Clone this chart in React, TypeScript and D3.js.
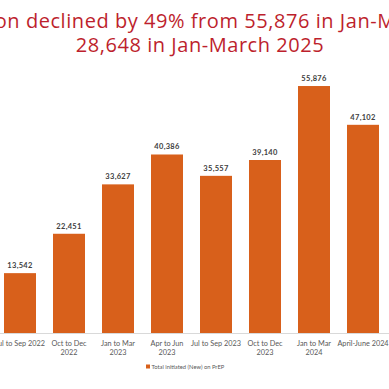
import React, { useEffect, useRef } from 'react';
import * as d3 from 'd3';

// quarters shown in the crop
const categories = [
  'Jul to Sep 2022',
  'Oct to Dec 2022',
  'Jan to Mar 2023',
  'Apr to Jun 2023',
  'Jul to Sep 2023',
  'Oct to Dec 2023',
  'Jan to Mar 2024',
  'April-June 2024',
];
const labelLines = [
  ['Jul to Sep 2022'],
  ['Oct to Dec', '2022'],
  ['Jan to Mar', '2023'],
  ['Apr to Jun', '2023'],
  ['Jul to Sep 2023'],
  ['Oct to Dec', '2023'],
  ['Jan to Mar', '2024'],
  ['April-June 2024'],
];
const initiated = [13542, 22451, 33627, 40386, 35557, 39140, 55876, 47102];
const titleLines = [
  'PrEP initiation declined by 49% from 55,876 in Jan-March 2024 to',
  '28,648 in Jan-March 2025',
];
const seriesName = 'Total initiated (New) on PrEP';

const W = 389;
const H = 389;
const BAR = '#d8601b';

function App() {
  const ref = useRef<SVGSVGElement | null>(null);

  useEffect(() => {
    const svg = d3.select(ref.current);
    svg.selectAll('*').remove();

    svg.append('rect').attr('width', W).attr('height', H).attr('fill', '#ffffff');

    // title
    svg.append('g')
      .selectAll('text')
      .data(titleLines)
      .enter()
      .append('text')
      .attr('x', 200)
      .attr('y', (_, i) => 28 + i * 24)
      .attr('text-anchor', 'middle')
      .style('font-family', '"Open Sans", sans-serif')
      .style('font-size', '20px')
      .style('font-weight', 500)
      .style('letter-spacing', '0.55px')
      .style('fill', '#bd1f2d')
      .text(d => d);

    const x = d3.scaleBand<string>()
      .domain(categories)
      .range([-4.5, 387.5])
      .paddingInner(0.347)
      .paddingOuter(0.1735);

    const y = d3.scaleLinear().domain([0, 60000]).range([333, 67.8]);

    // baseline
    svg.append('line')
      .attr('x1', 0).attr('x2', W)
      .attr('y1', y(0) + 0.5).attr('y2', y(0) + 0.5)
      .style('stroke', '#d9d9d9')
      .style('stroke-width', 1);

    const bars = svg.append('g')
      .selectAll('g')
      .data(categories)
      .enter()
      .append('g');

    bars.append('rect')
      .attr('x', d => x(d)!)
      .attr('width', x.bandwidth())
      .attr('y', (_, i) => y(initiated[i]))
      .attr('height', (_, i) => y(0) - y(initiated[i]))
      .style('fill', BAR);

    bars.append('text')
      .attr('x', d => x(d)! + x.bandwidth() / 2)
      .attr('y', (_, i) => y(initiated[i]) - 5)
      .attr('text-anchor', 'middle')
      .style('font-family', 'Lato, sans-serif')
      .style('font-size', '7.5px')
      .style('font-weight', 'bold')
      .style('letter-spacing', '0.3px')
      .style('fill', '#404040')
      .text((_, i) => d3.format(',')(initiated[i]));

    // category labels
    bars.append('text')
      .attr('text-anchor', 'middle')
      .style('font-family', 'Lato, sans-serif')
      .style('font-size', '7.3px')
      .style('fill', '#595959')
      .each(function (d, i) {
        d3.select(this)
          .selectAll('tspan')
          .data(labelLines[i])
          .enter()
          .append('tspan')
          .attr('x', x(d)! + x.bandwidth() / 2)
          .attr('y', (_, j) => 346 + j * 8.5)
          .text(t => t);
      });

    // legend
    svg.append('rect')
      .attr('x', 146).attr('y', 364.5)
      .attr('width', 4).attr('height', 4)
      .style('fill', BAR);
    svg.append('text')
      .attr('x', 151.5).attr('y', 368.5)
      .style('font-family', 'Lato, sans-serif')
      .style('font-size', '5.8px')
      .style('fill', '#595959')
      .text(seriesName);
  }, []);

  return (
    <svg ref={ref} width={W} height={H}
      style={{ position: 'absolute', left: 0, top: 0, display: 'block' }} />
  );
}

export default App;
